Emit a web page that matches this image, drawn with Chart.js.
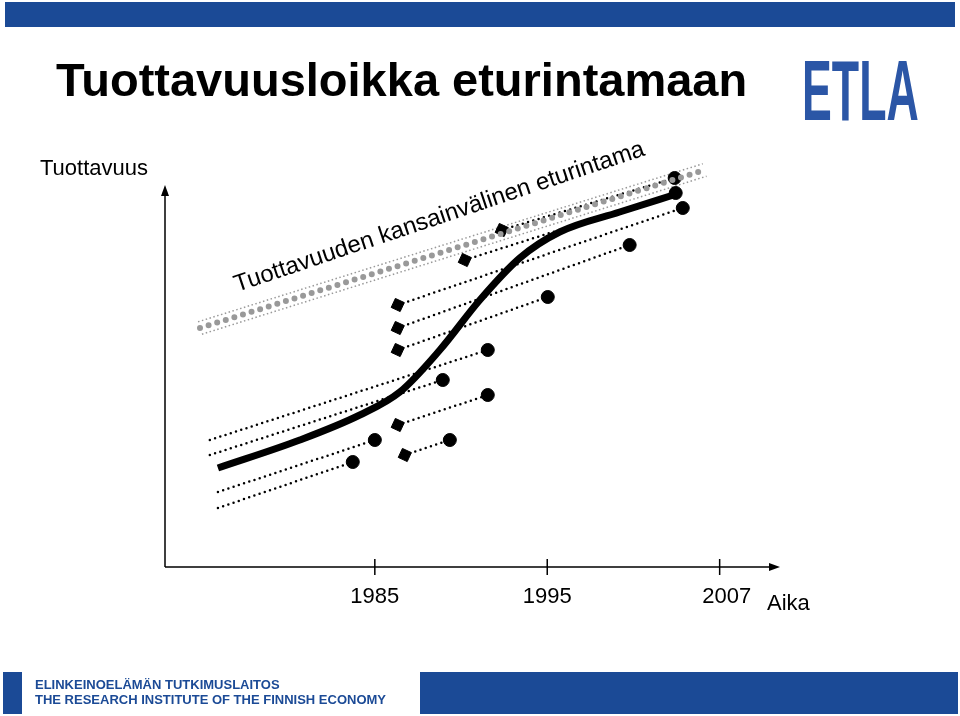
<!DOCTYPE html>
<html><head><meta charset="utf-8">
<script src="https://cdn.jsdelivr.net/npm/chart.js@4"></script>
<style>html,body{margin:0;padding:0;background:#fff;overflow:hidden}#w{position:relative;width:960px;height:716px}</style>
</head><body><div id="w"><canvas id="c" width="960" height="716"></canvas></div>
<script>
// x: time index (1985=10, 1995=20, 2007=30), y: productivity index
const tickValues = [10, 20, 30];
const tickLabels = ['1985', '1995', '2007'];
const circles = [[8.72,26.25],[10,31.75],[14.35,31.75],[13.94,46.75],[16.55,43],[16.55,54.25],[20.03,67.5],[24.78,80.5],[27.39,97.25],[27.45,93.5],[27.86,89.75]];
const diamonds = [[11.74,28],[11.33,35.5],[11.33,54.25],[11.33,59.75],[11.33,65.5],[15.22,76.75],[17.36,84.25]];
const curve = [[0.9,24.75],[5.65,31.75],[9.13,38],[11.45,43.75],[13.77,54.25],[16.09,66.75],[18.41,77.25],[20.72,83.75],[24.2,88.75],[27.68,93.5]];
const paths = [
 [[0.43,31.75],[16.55,54.25]],[[0.43,28],[13.94,46.75]],[[0.9,18.75],[10,31.75]],[[0.9,14.75],[8.72,26.25]],
 [[11.33,35.5],[16.55,43]],[[11.74,28],[14.35,31.75]],[[11.33,54.25],[20.03,67.5]],[[11.33,59.75],[24.78,80.5]],
 [[11.33,65.5],[27.86,89.75]],[[15.22,76.75],[27.45,93.5]],[[17.36,84.25],[27.39,97.25]]];
const frontier = [[-0.14,59.75],[29.13,99.25]];
const frontierLabel = 'Tuottavuuden kansainvälinen eturintama';
const xMin = -2.17, xMax = 33.5, yMin = 0, yMax = 100, yAxisTop = 95.5;

const pt = a => ({x:a[0], y:a[1]});
const ds = [];
ds.push({data:frontier.map(pt), borderColor:'#999', borderWidth:6, borderDash:[0,9], borderCapStyle:'round', pointRadius:0});
paths.forEach(p => ds.push({data:p.map(pt), borderColor:'#000', borderWidth:2.5, borderDash:[0,5.5], borderCapStyle:'round', pointRadius:0}));
ds.push({data:curve.map(pt), borderColor:'#000', borderWidth:7, tension:0.4, cubicInterpolationMode:'monotone', pointRadius:0});
ds.push({data:circles.map(pt), showLine:false, pointStyle:'circle', pointRadius:6.5, backgroundColor:'#000', borderColor:'#000'});
ds.push({data:diamonds.map(pt), showLine:false, pointStyle:'rectRot', pointRadius:7, backgroundColor:'#000', borderColor:'#000', rotation:-20});

const deco = {
 id:'deco',
 beforeDraw(ch){
  const c = ch.ctx, xs = ch.scales.x, ys = ch.scales.y;
  c.save();
  c.fillStyle = '#1b4a96';
  c.fillRect(5,2,950,25);
  c.fillRect(3,672,19,42);
  c.fillRect(420,672,538,42);
  c.fillStyle = '#000';
  c.font = 'bold 47px "Liberation Sans", Arial';
  c.fillText('Tuottavuusloikka eturintamaan', 56, 96);
  // logo
  c.save(); c.fillStyle = '#2b56a6'; c.translate(802,120); c.scale(0.52,1);
  c.font = 'bold 86px "Liberation Sans", Arial'; c.fillText('ETLA', 0, 0); c.restore();
  c.fillStyle = '#1b4a96'; c.font = 'bold 13px "Liberation Sans", Arial';
  c.fillText('ELINKEINOELÄMÄN TUTKIMUSLAITOS', 35, 689);
  c.fillText('THE RESEARCH INSTITUTE OF THE FINNISH ECONOMY', 35, 704);
  c.fillStyle = '#000'; c.font = '22px "Liberation Sans", Arial';
  c.fillText('Tuottavuus', 40, 175);
  c.fillText('Aika', 767, 610);
  // axes
  const x0 = xs.getPixelForValue(xMin), y0 = ys.getPixelForValue(yMin);
  const xr = xs.getPixelForValue(xMax), yt = ys.getPixelForValue(yAxisTop);
  c.strokeStyle = '#000'; c.lineWidth = 1.5;
  c.beginPath(); c.moveTo(x0,y0); c.lineTo(x0,yt+8); c.moveTo(x0,y0); c.lineTo(xr-8,y0); c.stroke();
  c.beginPath(); c.moveTo(x0,yt); c.lineTo(x0-4,yt+11); c.lineTo(x0+4,yt+11); c.closePath(); c.fill();
  c.beginPath(); c.moveTo(xr,y0); c.lineTo(xr-11,y0-4); c.lineTo(xr-11,y0+4); c.closePath(); c.fill();
  c.textAlign = 'center';
  tickValues.forEach((v,i) => {
   const px = xs.getPixelForValue(v);
   c.beginPath(); c.moveTo(px,y0-8); c.lineTo(px,y0+8); c.stroke();
   c.fillText(tickLabels[i], px + (i==2?7:0), 603);
  });
  // frontier edges
  const a = {x:xs.getPixelForValue(frontier[0][0]), y:ys.getPixelForValue(frontier[0][1])};
  const b = {x:xs.getPixelForValue(frontier[1][0]), y:ys.getPixelForValue(frontier[1][1])};
  const ang = Math.atan2(b.y-a.y, b.x-a.x);
  const nx = -Math.sin(ang)*6.5, ny = Math.cos(ang)*6.5;
  c.strokeStyle = '#999'; c.lineWidth = 1.5; c.setLineDash([1.5,2.5]);
  c.beginPath(); c.moveTo(a.x+nx,a.y+ny); c.lineTo(b.x+nx,b.y+ny); c.moveTo(a.x-nx,a.y-ny); c.lineTo(b.x-nx,b.y-ny); c.stroke();
  c.setLineDash([]);
  c.save(); c.translate(a.x+37, a.y-36); c.rotate(ang-0.02);
  c.textAlign='left'; c.fillStyle='#000'; c.font = '24px "Liberation Sans", Arial';
  c.fillText(frontierLabel, 0, 0); c.restore();
  c.restore();
 }
};

new Chart(document.getElementById('c'), {
 type:'line',
 data:{datasets:ds},
 options:{
  responsive:false, animation:false, events:[],
  layout:{padding:{left:165,right:180,top:167,bottom:149}},
  plugins:{legend:{display:false}, tooltip:{enabled:false}},
  scales:{
   x:{type:'linear', min:xMin, max:xMax, display:false},
   y:{type:'linear', min:yMin, max:yMax, display:false}
  }
 },
 plugins:[deco]
});
</script></body></html>
